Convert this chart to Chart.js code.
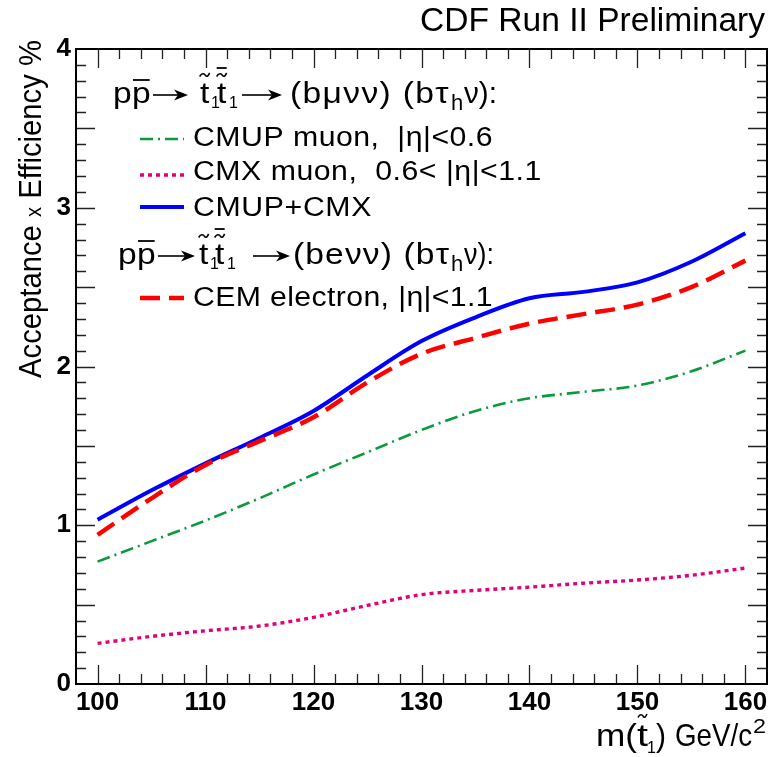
<!DOCTYPE html>
<html><head><meta charset="utf-8">
<script src="https://cdn.jsdelivr.net/npm/chart.js@4"></script>
<style>html,body{margin:0;padding:0;background:#fff}#wrap{width:772px;height:757px}</style>
</head><body><div id="wrap"><canvas id="c" width="772" height="757"></canvas></div>
<script>
// ---- data ----
const masses   = [100, 105, 110, 115, 120, 125, 130, 135, 140, 145, 150, 155, 160];
const cmup     = [0.771, 0.90, 1.03, 1.17, 1.32, 1.46, 1.60, 1.72, 1.80, 1.84, 1.88, 1.97, 2.10];
const cmx      = [0.256, 0.30, 0.335, 0.365, 0.42, 0.495, 0.563, 0.59, 0.61, 0.635, 0.655, 0.685, 0.73];
const combined = [1.035, 1.22, 1.39, 1.55, 1.72, 1.945, 2.16, 2.31, 2.43, 2.47, 2.53, 2.66, 2.84];
const cem      = [0.94, 1.17, 1.38, 1.53, 1.68, 1.90, 2.08, 2.18, 2.27, 2.33, 2.39, 2.50, 2.667];
const xTicks = [100, 110, 120, 130, 140, 150, 160];
const yTicks = [0, 1, 2, 3, 4];

const FONT = 'Liberation Sans, Arial, Helvetica, sans-serif';
const GREEN = '#0a9a3c', MAGENTA = '#e2007c', BLUE = '#0000ff', RED = '#ff0000';

function pts(arr){ return masses.map((m,i)=>({x:m, y:arr[i]})); }

const styles = {
  cmup:     {borderColor:GREEN,   borderWidth:2.6, borderDash:[13,5,2,5]},
  cmx:      {borderColor:MAGENTA, borderWidth:3.4, borderDash:[4,4]},
  combined: {borderColor:BLUE,    borderWidth:4,   borderDash:[]},
  cem:      {borderColor:RED,     borderWidth:4.5, borderDash:[20,9]}
};

// draw text starting at x; if x2 given, fit to [x,x2] using a horizontal scale
// up to maxS, and letter spacing for the rest
function txt(ctx, s, x, y, font, x2, maxS, fixedS){
  ctx.save();
  ctx.font = font; ctx.letterSpacing = '0px';
  const w = ctx.measureText(s).width;
  let sx = fixedS || 1, ls = 0;
  if (x2){
    sx = (x2 - x) / w;
    if (maxS && sx > maxS){ ls = ((x2 - x) / maxS - w) / s.length; sx = maxS; }
  }
  if (ls > 0) ctx.letterSpacing = ls.toFixed(2) + 'px';
  ctx.translate(x, y); ctx.scale(sx, 1);
  ctx.textAlign = 'left'; ctx.textBaseline = 'alphabetic';
  ctx.fillText(s, 0, 0); ctx.restore();
  return (w + ls * s.length) * sx;
}
function tilde(ctx, cx, cy, w){
  ctx.save(); ctx.lineWidth = 1.6; ctx.strokeStyle = '#000';
  ctx.beginPath();
  ctx.moveTo(cx - w/2, cy + 1.5);
  ctx.bezierCurveTo(cx - w/4, cy - 3, cx, cy - 1, cx + 0.5, cy);
  ctx.bezierCurveTo(cx + w/4, cy + 2.5, cx + w/3, cy + 1, cx + w/2, cy - 2);
  ctx.stroke(); ctx.restore();
}
function hbar(ctx, x1, x2, y){
  ctx.save(); ctx.lineWidth = 1.8; ctx.strokeStyle = '#000';
  ctx.beginPath(); ctx.moveTo(x1, y); ctx.lineTo(x2, y); ctx.stroke(); ctx.restore();
}
function arrow(ctx, x1, x2, y){
  ctx.save(); ctx.strokeStyle = '#000'; ctx.fillStyle = '#000'; ctx.lineWidth = 1.6;
  ctx.beginPath(); ctx.moveTo(x1, y); ctx.lineTo(x2 - 8, y); ctx.stroke();
  ctx.beginPath(); ctx.moveTo(x2, y); ctx.lineTo(x2 - 14, y - 5.5); ctx.lineTo(x2 - 10, y); ctx.lineTo(x2 - 14, y + 5.5); ctx.closePath(); ctx.fill();
  ctx.restore();
}
function header(ctx, b, P, mid){
  const F = '30px ' + FONT, FS = '16px ' + FONT, FH = '22px ' + FONT, S = 1.12;
  txt(ctx, 'p', P.p1, b, F, 0, 0, S);
  const w = txt(ctx, 'p', P.p2, b, F, 0, 0, S);
  hbar(ctx, P.p2 + 1, P.p2 + w - 1, b - 23);
  arrow(ctx, P.a1[0], P.a1[1], b - 8);
  const tw = txt(ctx, 't', P.t1, b, F, 0, 0, S);
  tilde(ctx, P.t1 + tw/2, b - 28, 10);
  txt(ctx, '1', P.s1, b + 5, FS);
  const tw2 = txt(ctx, 't', P.t2, b, F, 0, 0, S);
  tilde(ctx, P.t2 + tw2/2, b - 28, 10);
  hbar(ctx, P.t2 + tw2/2 - 5, P.t2 + tw2/2 + 5, b - 35);
  txt(ctx, '1', P.s2, b + 5, FS);
  arrow(ctx, P.a2[0], P.a2[1], b - 8);
  txt(ctx, mid, P.m[0], b, F, P.m[1], 1.12);
  txt(ctx, 'h', P.h, b + 7, FH);
  txt(ctx, 'ν):', P.e[0], b, F, P.e[1], 1.12);
}
function sample(ctx, key, y){
  const s = styles[key];
  ctx.save(); ctx.strokeStyle = s.borderColor; ctx.lineWidth = s.borderWidth; ctx.setLineDash(s.borderDash);
  ctx.beginPath(); ctx.moveTo(140, y); ctx.lineTo(184, y); ctx.stroke(); ctx.restore();
}

const decor = {
  id: 'decor',
  afterDraw(chart){
    const ctx = chart.ctx, a = chart.chartArea, xs = chart.scales.x, ys = chart.scales.y;
    ctx.save();
    // ticks
    ctx.strokeStyle = '#222'; ctx.lineWidth = 1.3;
    ctx.beginPath();
    for (let v = 100; v <= 160; v += 2){
      const px = Math.round(xs.getPixelForValue(v)) + 0.5;
      const L = (v % 10 === 0) ? 19 : 10;
      ctx.moveTo(px, a.bottom); ctx.lineTo(px, a.bottom - L);
      ctx.moveTo(px, a.top); ctx.lineTo(px, a.top + L);
    }
    for (let k = 1; k < 40; k++){
      const v = k / 10;
      const py = Math.round(ys.getPixelForValue(v)) + 0.5;
      const L = (k % 5 === 0) ? 19 : 10;
      ctx.moveTo(a.left, py); ctx.lineTo(a.left + L, py);
      ctx.moveTo(a.right, py); ctx.lineTo(a.right - L, py);
    }
    ctx.stroke();
    // frame
    ctx.strokeStyle = '#000'; ctx.lineWidth = 2;
    ctx.strokeRect(a.left, a.top, a.right - a.left, a.bottom - a.top);

    ctx.fillStyle = '#000';
    // title
    txt(ctx, 'CDF Run II Preliminary', 420, 31, '33px ' + FONT, 765);
    // y axis title (composite, uniformly condensed to span 40..378)
    ctx.save(); ctx.translate(41, 378); ctx.rotate(-Math.PI/2);
    const YF = '32px ' + FONT, YS = '22px ' + FONT;
    ctx.font = YF; const w1 = ctx.measureText('Acceptance ').width, w3 = ctx.measureText(' Efficiency %').width;
    ctx.font = YS; const w2 = ctx.measureText('x').width;
    const k = 338 / (w1 + w2 + w3);
    txt(ctx, 'Acceptance ', 0, 0, YF, 0, 0, k);
    txt(ctx, 'x', w1 * k, 0, YS, 0, 0, k);
    txt(ctx, ' Efficiency %', (w1 + w2) * k, 0, YF, 0, 0, k);
    ctx.restore();
    // x axis title
    const XF = '32px ' + FONT;
    txt(ctx, 'm(', 596, 746, XF, 637);
    const tw = txt(ctx, 't', 637, 746, XF, 648);
    tilde(ctx, 637 + tw/2, 716, 9);
    txt(ctx, '1', 647, 753, '16px ' + FONT);
    txt(ctx, ')', 656, 746, XF, 666);
    txt(ctx, 'GeV/c', 675, 746, XF, 752);
    txt(ctx, '2', 753, 733, '21px ' + FONT, 766);

    // legend
    header(ctx, 103, {p1:113, p2:132, a1:[153,188], t1:200, s1:211, t2:217, s2:229, a2:[242,282], m:[290,450], h:451, e:[464,497]}, '(bμνν) (bτ');
    const EF = '27px ' + FONT;
    sample(ctx, 'cmup', 139);     txt(ctx, 'CMUP muon,  |η|<0.6', 193, 146, EF, 493, 1.12);
    sample(ctx, 'cmx', 175);      txt(ctx, 'CMX muon,  0.6< |η|<1.1', 193, 180, EF, 542, 1.12);
    sample(ctx, 'combined', 207); txt(ctx, 'CMUP+CMX', 193, 216, EF, 372, 1.12);
    header(ctx, 264, {p1:118, p2:137, a1:[158,195], t1:199, s1:210, t2:215, s2:227, a2:[253,290], m:[293,450], h:451, e:[464,494]}, '(beνν) (bτ');
    sample(ctx, 'cem', 298);      txt(ctx, 'CEM electron, |η|<1.1', 193, 306, EF, 493, 1.12);
    ctx.restore();
  }
};

const tickFont = {family: FONT, weight: 'bold', size: 26};
new Chart(document.getElementById('c').getContext('2d'), {
  type: 'line',
  data: {
    datasets: [
      Object.assign({label:'CMUP muon, |η|<0.6', data: pts(cmup)}, styles.cmup),
      Object.assign({label:'CMX muon, 0.6<|η|<1.1', data: pts(cmx)}, styles.cmx),
      Object.assign({label:'CEM electron, |η|<1.1', data: pts(cem)}, styles.cem),
      Object.assign({label:'CMUP+CMX', data: pts(combined)}, styles.combined)
    ].map(d => Object.assign(d, {pointRadius:0, fill:false, cubicInterpolationMode:'monotone'}))
  },
  options: {
    responsive: false, animation: false, devicePixelRatio: 1,
    layout: {padding: {top: 49, right: 5, left: 0, bottom: 0}},
    plugins: {legend: {display: false}, tooltip: {enabled: false}, title: {display: false}},
    scales: {
      x: {
        type: 'linear', min: 98, max: 162,
        grid: {display: false, drawTicks: false}, border: {display: false},
        afterBuildTicks: s => { s.ticks = xTicks.map(v => ({value: v})); },
        afterFit: s => { s.height = 73; },
        ticks: {font: tickFont, color: '#000', padding: 3, maxRotation: 0, autoSkip: false}
      },
      y: {
        type: 'linear', min: 0, max: 4,
        grid: {display: false, drawTicks: false}, border: {display: false},
        afterBuildTicks: s => { s.ticks = yTicks.map(v => ({value: v})); },
        afterFit: s => { s.width = 76; },
        ticks: {font: tickFont, color: '#000', padding: 5, autoSkip: false}
      }
    }
  },
  plugins: [decor]
});
</script></body></html>
